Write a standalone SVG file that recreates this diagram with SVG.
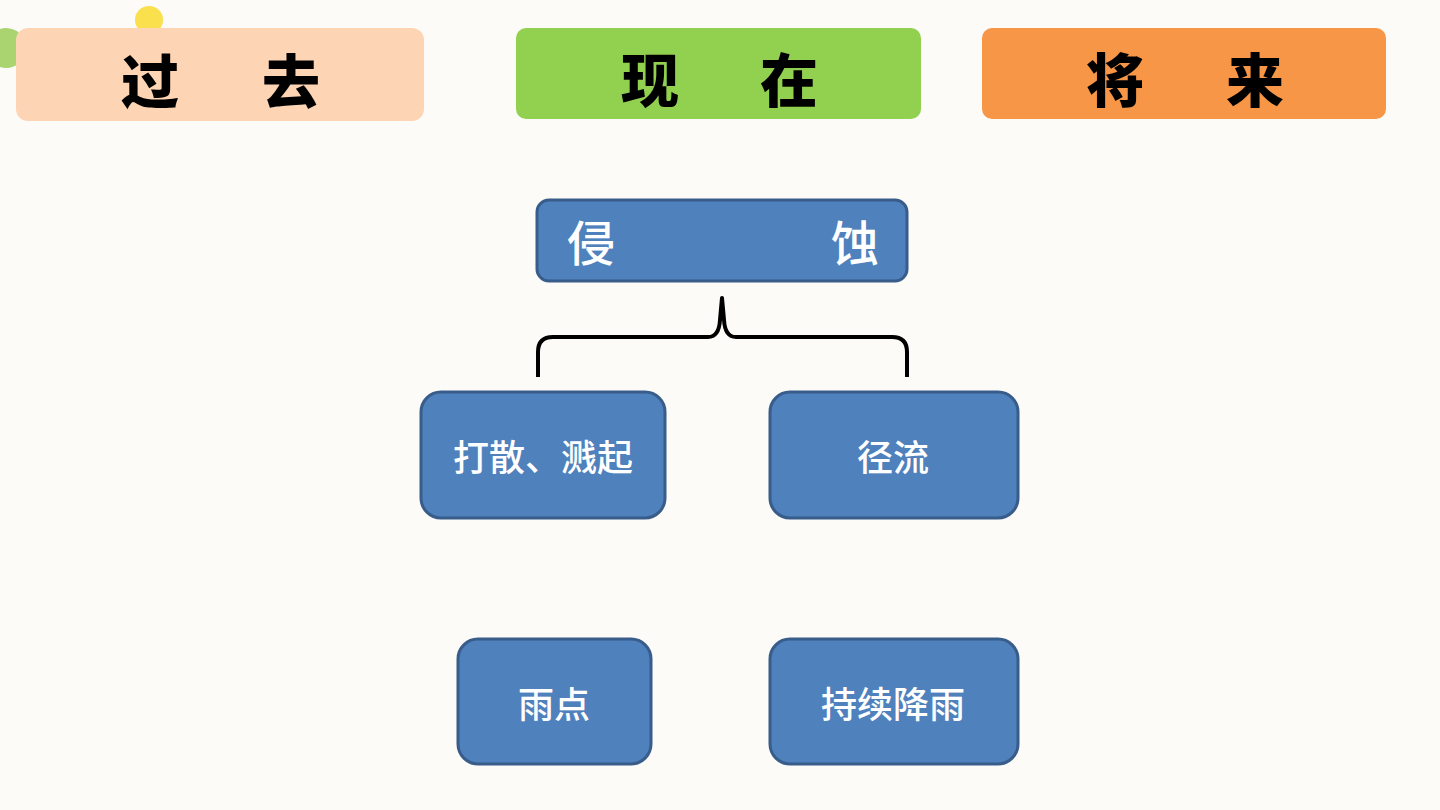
<svg xmlns="http://www.w3.org/2000/svg" width="1440" height="810" viewBox="0 0 1440 810">
<style>
.hdr{font-family:"Noto Sans CJK SC","Noto Sans CJK JP",sans-serif;font-weight:900;font-size:58px;fill:#000;text-anchor:middle;dominant-baseline:central}
.box{fill:#4f81bd;stroke:#385d8a;stroke-width:3}
.lbl{font-family:"Noto Sans CJK SC","Noto Sans CJK JP",sans-serif;font-weight:500;font-size:36px;fill:#fff;text-anchor:middle;dominant-baseline:central}
.big{font-size:48px}
</style>
<rect width="1440" height="810" fill="#fcfbf8"/>
<circle cx="149" cy="20" r="14" fill="#f9e04c"/>
<circle cx="6" cy="48" r="20" fill="#a9d470"/>
<g id="past">
<rect x="16" y="28" width="408" height="93" rx="12" fill="#fdd5b5"/>
<text class="hdr" x="150" y="78">过</text>
<text class="hdr" x="291" y="78">去</text>
</g>
<g id="present">
<rect x="516" y="28" width="405" height="91" rx="10" fill="#92d050"/>
<text class="hdr" x="650" y="77">现</text>
<text class="hdr" x="789" y="77">在</text>
</g>
<g id="future">
<rect x="982" y="28" width="404" height="91" rx="10" fill="#f79646"/>
<text class="hdr" x="1115" y="77">将</text>
<text class="hdr" x="1255" y="77">来</text>
</g>
<g id="connectors">
<path d="M538,377 L538,352 Q538,337 553,337 L708,337 Q719,337 720,320 L722,298 L724,320 Q725,337 736,337 L892,337 Q907,337 907,352 L907,377" fill="none" stroke="#000" stroke-width="4" stroke-linejoin="round"/>
</g>
<g id="erosion">
<rect class="box" x="537" y="200" width="370" height="81" rx="12"/>
<text class="lbl big" x="591" y="240">侵</text>
<text class="lbl big" x="855" y="240">蚀</text>
</g>
<g id="splash">
<rect class="box" x="421" y="392" width="244" height="126" rx="20"/>
<text class="lbl" x="543" y="455">打散、溅起</text>
</g>
<g id="runoff">
<rect class="box" x="770" y="392" width="248" height="126" rx="20"/>
<text class="lbl" x="893" y="455">径流</text>
</g>
<g id="raindrop">
<rect class="box" x="458" y="639" width="193" height="125" rx="20"/>
<text class="lbl" x="554" y="702">雨点</text>
</g>
<g id="rain">
<rect class="box" x="770" y="639" width="248" height="125" rx="20"/>
<text class="lbl" x="893" y="702">持续降雨</text>
</g>
</svg>
